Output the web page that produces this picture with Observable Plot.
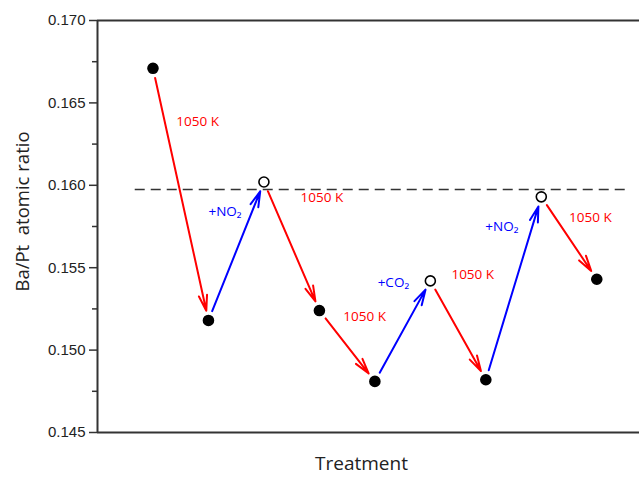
<!DOCTYPE html>
<html><head><meta charset="utf-8">
<script src="https://cdn.jsdelivr.net/npm/d3@7"></script>
<script src="https://cdn.jsdelivr.net/npm/@observablehq/plot@0.6"></script>
<style>body{margin:0;background:#fff} svg text{white-space:pre}</style>
</head><body><div id="chart"></div>
<script>
const steps = [1, 2, 3, 4, 5, 6, 7, 8, 9];
const ratio = [0.1671, 0.1518, 0.1602, 0.1524, 0.1481, 0.1542, 0.1482, 0.1593, 0.1543];
const openPoint = [false, false, true, false, false, true, false, true, false];
const treatment = ["1050 K", "+NO₂", "1050 K", "1050 K", "+CO₂", "1050 K", "+NO₂", "1050 K"];
const labelX = [1.42, 2.0, 3.66, 4.43, 5.05, 6.38, 6.99, 8.5];
const labelY = [0.16387, 0.15841, 0.15926, 0.15204, 0.1541, 0.15459, 0.1575, 0.15805];
const refLevel = 0.15975;
const refStart = 0.68, refEnd = 9.6;
const yTicks = [0.145, 0.150, 0.155, 0.160, 0.165, 0.170];
const yMinorTicks = [0.1475, 0.1525, 0.1575, 0.1625, 0.1675];

const points = steps.map((s, i) => ({step: s, ratio: ratio[i], open: openPoint[i]}));
const segs = treatment.map((t, i) => ({
  x1: steps[i], y1: ratio[i], x2: steps[i + 1], y2: ratio[i + 1],
  heat: t.includes("K"), label: t, lx: labelX[i], ly: labelY[i]
}));
const red = "#ff0000", blue = "#0000ff", ink = "#333";

const chart = Plot.plot({
  width: 639, height: 477,
  marginLeft: 97, marginTop: 20, marginRight: 0, marginBottom: 45,
  style: {fontFamily: "'Liberation Sans', Arial, sans-serif", background: "#fff"},
  x: {domain: [0, 9.77], axis: null},
  y: {domain: [0.145, 0.170], axis: null},
  marks: [
    Plot.ruleY([0.145, 0.170], {stroke: ink, strokeWidth: 2}),
    Plot.ruleX([0], {stroke: ink, strokeWidth: 2}),
    Plot.axisY(yTicks, {tickSize: 8, tickPadding: 4, tickFormat: d3.format(".3f"), fontSize: 15, fill: "#222", stroke: ink, strokeWidth: 1.5, label: null}),
    Plot.axisY(yMinorTicks, {tickSize: 5, tickFormat: () => "", stroke: ink, strokeWidth: 1.5, label: null}),
    Plot.ruleY([refLevel], {x1: refStart, x2: refEnd, stroke: ink, strokeWidth: 1.5, strokeDasharray: "10,6"}),
    Plot.arrow(segs, {x1: "x1", y1: "y1", x2: "x2", y2: "y2", bend: 0,
      stroke: d => d.heat ? red : blue, strokeWidth: 2, headLength: 12, headAngle: 30,
      insetStart: 10, insetEnd: 10}),
    Plot.text(segs, {x: "lx", y: "ly", text: "label", textAnchor: "start",
      fill: d => d.heat ? red : blue, fontSize: 13.5, fontFamily: "'Open Sans', sans-serif"}),
    Plot.dot(points, {x: "step", y: "ratio", r: 5,
      fill: d => d.open ? "#fff" : "#000", stroke: "#000", strokeWidth: 1.6}),
    Plot.text(["Ba/Pt  atomic ratio"], {frameAnchor: "left", textAnchor: "middle", rotate: -90, dx: -74, dy: -15, fontSize: 18.5, fill: "#222", fontFamily: "'Open Sans', sans-serif"}),
    Plot.text(["Treatment"], {frameAnchor: "bottom", dx: -7, dy: 37, fontSize: 19, fill: "#222", fontFamily: "'Open Sans', sans-serif"})
  ]
});
document.getElementById("chart").appendChild(chart);
</script>
</body></html>
